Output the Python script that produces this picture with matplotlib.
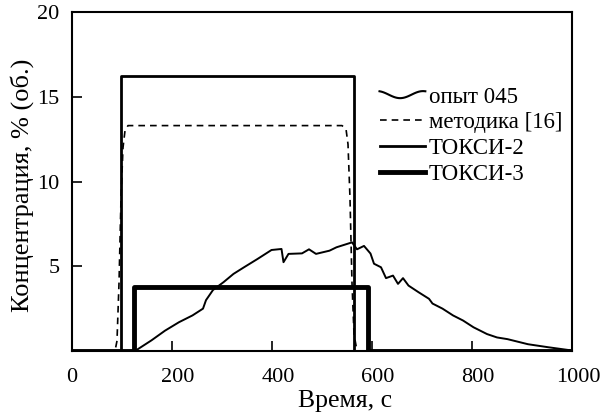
import numpy as np
import matplotlib
matplotlib.use("Agg")
import matplotlib.pyplot as plt
from matplotlib.legend_handler import HandlerBase
from matplotlib.lines import Line2D
from matplotlib.transforms import ScaledTranslation

plt.rcParams['font.family'] = ['Liberation Serif', 'DejaVu Serif']

# опыт 045 (экспериментальная кривая)
t_exp = [0, 126, 159, 186, 214, 241, 262, 268, 282, 303, 323, 344, 371, 399, 419,
         423, 433, 460, 474, 488, 515, 529, 560, 570, 584, 597, 604, 618, 628, 642,
         652, 662, 673, 693, 714, 721, 741, 762, 782, 803, 830, 850, 871, 912, 953, 995]
c_exp = [0, 0, 0.63, 1.2, 1.7, 2.1, 2.5, 3.0, 3.6, 4.06, 4.55, 4.94, 5.43, 5.96, 6.02,
         5.24, 5.73, 5.76, 6.0, 5.73, 5.92, 6.12, 6.41, 6.0, 6.2, 5.75, 5.15, 4.94, 4.3, 4.45,
         3.96, 4.3, 3.86, 3.47, 3.08, 2.8, 2.5, 2.1, 1.8, 1.4, 1.0, 0.8, 0.7, 0.4, 0.22, 0.05]

# методика [16]
t_met = [0, 86, 90, 94, 98, 102, 106, 112, 120, 540, 548, 552, 556, 560, 564, 570, 1000]
c_met = [0, 0, 0.6, 4.0, 9.0, 12.0, 13.0, 13.3, 13.3, 13.3, 13.1, 12.2, 9.0, 4.0, 1.0, 0, 0]

# ТОКСИ-2
t_t2 = [0, 99, 99, 564, 564, 1000]
c_t2 = [0, 0, 16.2, 16.2, 0, 0]

# ТОКСИ-3
t_t3 = [0, 124, 124, 592, 592, 1000]
c_t3 = [0, 0, 3.76, 3.76, 0, 0]

labels = ["опыт 045", "методика [16]", "ТОКСИ-2", "ТОКСИ-3"]


class WavyHandler(HandlerBase):
    # волнистый значок для экспериментальной кривой
    def create_artists(self, legend, orig_handle, xdescent, ydescent,
                       width, height, fontsize, trans):
        xs = np.linspace(0, width, 30)
        ys = height / 2 + height * 0.22 * np.sin(np.linspace(0.6 * np.pi, 2.6 * np.pi, 30))
        line = Line2D(xs - xdescent, ys - ydescent, color='black', lw=1.5)
        line.set_transform(trans)
        return [line]


fig = plt.figure(figsize=(6.03, 4.15), dpi=100)
ax = fig.add_axes([0.1194, 0.1542, 0.8292, 0.8168])

h_exp, = ax.plot(t_exp, c_exp, color='black', lw=1.4)
h_met, = ax.plot(t_met, c_met, color='black', lw=1.2, ls=(0, (4, 3)))
h_t2, = ax.plot(t_t2, c_t2, color='black', lw=2.0)
h_t3, = ax.plot(t_t3, c_t3, color='black', lw=3.5)

ax.set_xlim(0, 1000)
ax.set_ylim(0, 20)
ax.set_xticks([0, 200, 400, 600, 800, 1000])
ax.set_yticks([5, 10, 15, 20])
ax.tick_params(direction='in', length=7, width=1.2, labelsize=16)
ax.tick_params(axis='x', pad=12)
ax.tick_params(axis='y', pad=9)
for s in ax.spines.values():
    s.set_linewidth(1.5)

# подписи делений 200..1000 в оригинале чуть смещены вправо
for lbl in ax.get_xticklabels()[1:]:
    lbl.set_transform(lbl.get_transform() + ScaledTranslation(0.06, 0, fig.dpi_scale_trans))

ax.set_xlabel("Время, с", fontsize=18.5)
ax.xaxis.set_label_coords(0.546, -0.115)
ax.set_ylabel("Концентрация, % (об.)", fontsize=19)
ax.yaxis.set_label_coords(-0.075, 0.49)

leg = ax.legend([h_exp, h_met, h_t2, h_t3], labels,
                handler_map={h_exp: WavyHandler()},
                loc='upper left', bbox_to_anchor=(0.615, 0.78),
                frameon=False, fontsize=16.5, handlelength=2.0,
                handletextpad=0.15, labelspacing=0.2, borderpad=0,
                borderaxespad=0)
for line in leg.get_lines():
    line.set_color('black')

fig.savefig("out.png", dpi=100)
